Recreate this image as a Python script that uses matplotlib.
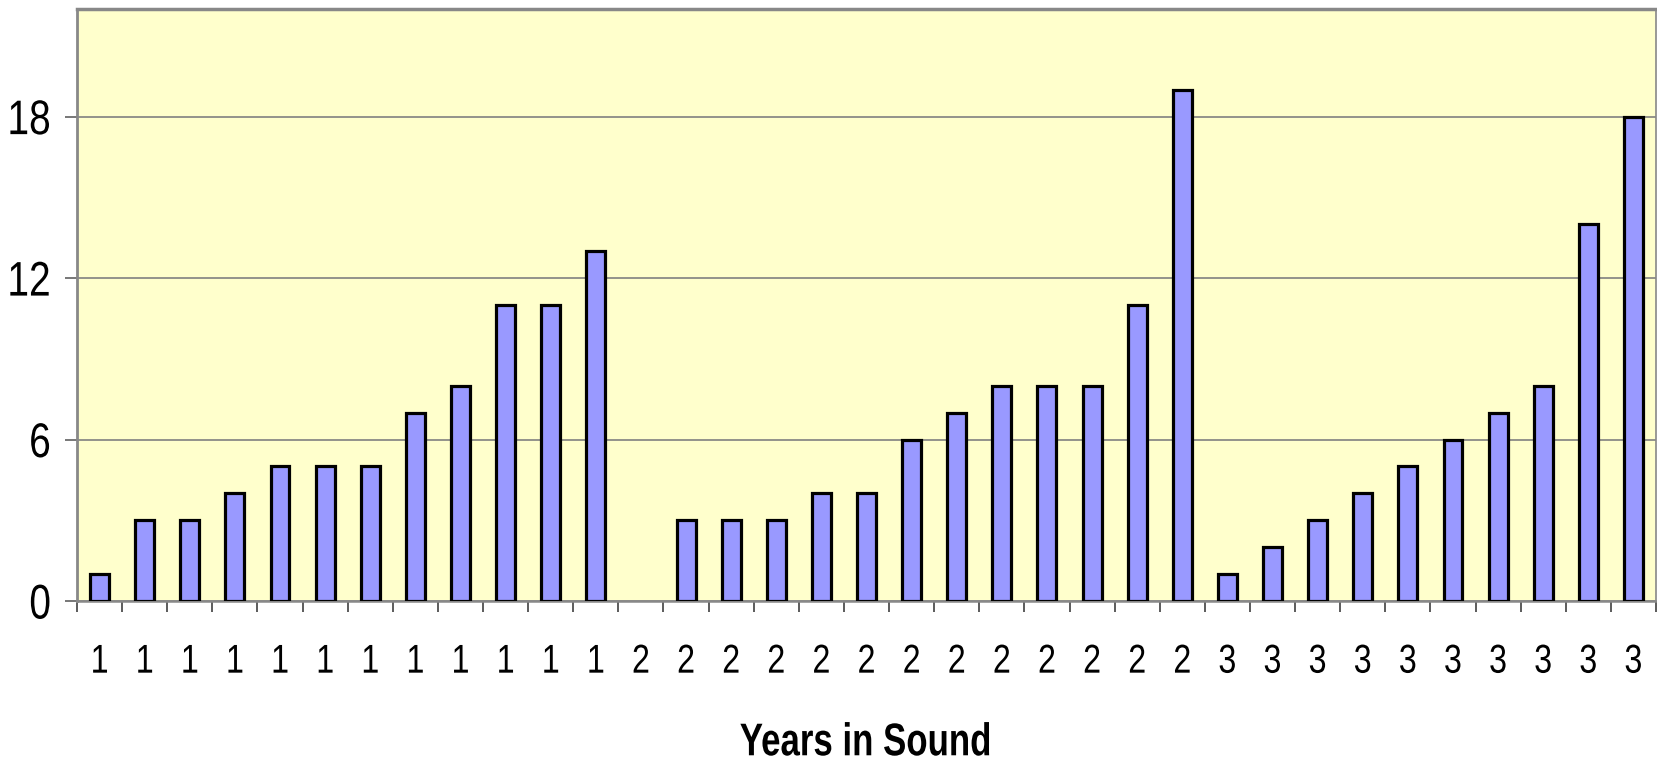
import matplotlib
matplotlib.use("Agg")
import matplotlib.pyplot as plt
import matplotlib.patheffects as pe
from matplotlib.transforms import Affine2D
import numpy as np

# years in sound, one bar per category
labels = ["1"] * 12 + ["2"] * 13 + ["3"] * 10
values = [1, 3, 3, 4, 5, 5, 5, 7, 8, 11, 11, 13,
          0, 3, 3, 3, 4, 4, 6, 7, 8, 8, 8, 11, 19,
          1, 2, 3, 4, 5, 6, 7, 8, 14, 18]
yticks = [0, 6, 12, 18]


class Squeeze(pe.AbstractPathEffect):
    # narrow the glyphs horizontally (reference uses a condensed face)
    def __init__(self, sx, anchor="center"):
        super().__init__()
        self.sx = sx
        self.anchor = anchor

    def draw_path(self, renderer, gc, tpath, affine, rgbFace=None):
        ext = tpath.get_extents()
        if self.anchor == "right":
            cx = ext.x1
        else:
            cx = (ext.x0 + ext.x1) / 2
        t = Affine2D().translate(-cx, 0).scale(self.sx, 1).translate(cx, 0) + affine
        renderer.draw_path(gc, tpath, t, rgbFace)


plt.rcParams['font.family'] = ['Liberation Sans', 'DejaVu Sans']

fig = plt.figure(figsize=(16.57, 7.66), dpi=100)
ax = fig.add_axes([77/1657, 165/766, 1579/1657, 592/766])
ax.set_facecolor("#FFFFCC")

x = np.arange(len(values))
edges = ["black" if v > 0 else "none" for v in values]
ax.bar(x, values, width=0.42, color="#9999FF", edgecolor=edges, linewidth=2.3, zorder=3)

ax.set_xlim(-0.5, len(values) - 0.5)
ax.set_ylim(0, 22)
ax.set_yticks(yticks)
ax.set_yticklabels([str(v) for v in yticks], fontsize=35)
ax.grid(axis="y", color="#808080", linewidth=1.2, zorder=1)

ax.set_xticks(x)
ax.set_xticklabels(labels, fontsize=29)
ax.set_xticks(np.arange(len(values) + 1) - 0.5, minor=True)
ax.tick_params(axis="x", which="major", length=0, pad=30)
ax.tick_params(axis="x", which="minor", length=8, width=1.2, color="#404040")
ax.tick_params(axis="y", length=8.5, width=1.2, color="#606060", pad=10)

for lab in ax.get_xticklabels():
    lab.set_path_effects([Squeeze(0.8)])
for lab in ax.get_yticklabels():
    lab.set_path_effects([Squeeze(0.8, "right")])

for s in ax.spines.values():
    s.set_color("#888888")
ax.spines["top"].set_linewidth(2.5)
ax.spines["left"].set_linewidth(2)
ax.spines["bottom"].set_linewidth(1.8)
ax.spines["right"].set_linewidth(1.2)

title = fig.text(866/1657, 0.014, "Years in Sound", fontsize=33, fontweight="bold",
                 ha="center", va="baseline")
title.set_path_effects([Squeeze(0.76)])

fig.savefig("out.png", dpi=100)
